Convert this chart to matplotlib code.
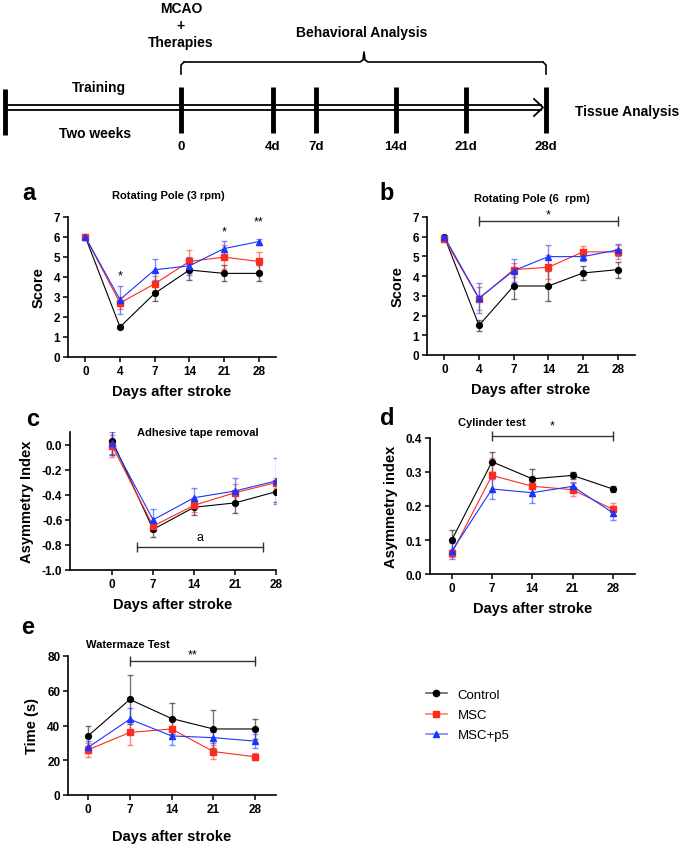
import matplotlib
matplotlib.use('Agg')
import matplotlib.pyplot as plt
from matplotlib.lines import Line2D
import numpy as np

plt.rcParams['font.family'] = ['Liberation Sans', 'DejaVu Sans']

# x categories
days_ab = ['0', '4', '7', '14', '21', '28']
days_cde = ['0', '7', '14', '21', '28']

# a: Rotating Pole (3 rpm)
a_control = [6.0, 1.5, 3.18, 4.35, 4.18, 4.18]
a_control_err = [0.05, 0.05, 0.38, 0.5, 0.4, 0.4]
a_msc = [6.0, 2.7, 3.66, 4.78, 4.99, 4.78]
a_msc_err = [0.05, 0.3, 0.37, 0.59, 0.6, 0.48]
a_p5 = [6.0, 2.87, 4.36, 4.56, 5.42, 5.77]
a_p5_err = [0.05, 0.7, 0.52, 0.46, 0.37, 0.15]

# b: Rotating Pole (6 rpm)
b_control = [6.0, 1.5, 3.5, 3.5, 4.16, 4.33]
b_control_err = [0.05, 0.3, 0.67, 0.78, 0.37, 0.41]
b_msc = [5.89, 2.86, 4.33, 4.45, 5.23, 5.23]
b_msc_err = [0.05, 0.6, 0.35, 0.6, 0.3, 0.35]
b_p5 = [6.0, 2.88, 4.28, 4.99, 4.99, 5.33]
b_p5_err = [0.05, 0.77, 0.57, 0.6, 0.2, 0.32]

# c: Adhesive tape removal
c_control = [0.03, -0.676, -0.5, -0.465, -0.376]
c_control_err = [0.11, 0.06, 0.06, 0.08, 0.085]
c_msc = [-0.01, -0.65, -0.484, -0.384, -0.303]
c_msc_err = [0.09, 0.04, 0.05, 0.07, 0.04]
c_p5 = [0.01, -0.6, -0.424, -0.37, -0.29]
c_p5_err = [0.087, 0.087, 0.074, 0.1, 0.18]

# d: Cylinder test
d_control = [0.10, 0.33, 0.28, 0.29, 0.25]
d_control_err = [0.03, 0.03, 0.03, 0.01, 0.008]
d_msc = [0.061, 0.29, 0.258, 0.248, 0.19]
d_msc_err = [0.01, 0.05, 0.03, 0.02, 0.02]
d_p5 = [0.067, 0.25, 0.239, 0.258, 0.18]
d_p5_err = [0.024, 0.03, 0.03, 0.012, 0.02]

# e: Watermaze Test
e_control = [34, 55, 44, 38, 38]
e_control_err = [6, 14, 9, 11, 6]
e_msc = [26, 36, 38, 25, 22]
e_msc_err = [4, 7, 6, 4, 2]
e_p5 = [27.4, 43.6, 34, 33, 31]
e_p5_err = [3.5, 6.4, 5, 3, 4]

groups = ['Control', 'MSC', 'MSC+p5']
colors = ['#000000', '#FF2A1A', '#1A35FF']
markers = ['o', 's', '^']

# timeline schematic
tl_labels = ['0', '4d', '7d', '14d', '21d', '28d']
tl_x = [181, 273, 316, 396, 466, 546]

W, H = 685, 845
fig = plt.figure(figsize=(W / 100, H / 100), dpi=100)


def box(x0, x1, y0, y1):
    return [x0 / W, 1 - y1 / H, (x1 - x0) / W, (y1 - y0) / H]


# ---- timeline
ax0 = fig.add_axes([0, 1 - 170 / H, 1, 170 / H])
ax0.set_xlim(0, W)
ax0.set_ylim(170, 0)
ax0.axis('off')
ax0.plot([5, 541], [106, 106], color='k', lw=1.3)
ax0.plot([5, 541], [111, 111], color='k', lw=1.3)
ax0.plot([534, 543, 534], [100, 108.5, 117], color='k', lw=1.3)
ax0.vlines(5, 90, 136, color='k', lw=3.5)
for x in tl_x:
    ax0.vlines(x, 88, 134, color='k', lw=3.5)
for x, lab in zip(tl_x, tl_labels):
    ax0.text(x, 147, lab, ha='center', va='center', fontsize=9.5, fontweight='bold')
ax0.plot([181, 181, 184], [75, 66, 63], color='k', lw=1.2)
ax0.plot([184, 360, 363, 364, 365, 368, 543], [63, 63, 61, 53, 61, 63, 63], color='k', lw=1.2)
ax0.plot([543, 546, 546], [63, 66, 75], color='k', lw=1.2)
ax0.text(181, 9, 'MCAO', ha='center', va='center', fontsize=10, fontweight='bold')
ax0.text(181, 26, '+', ha='center', va='center', fontsize=10, fontweight='bold')
ax0.text(181, 43, 'Therapies', ha='center', va='center', fontsize=10, fontweight='bold')
ax0.text(362, 33, 'Behavioral Analysis', ha='center', va='center', fontsize=10, fontweight='bold')
ax0.text(99, 88, 'Training', ha='center', va='center', fontsize=10, fontweight='bold')
ax0.text(95, 134, 'Two weeks', ha='center', va='center', fontsize=10, fontweight='bold')
ax0.text(627, 112, 'Tissue Analysis', ha='center', va='center', fontsize=10, fontweight='bold')


def draw(ax, labels, series, errs, ylim, yticks, ylabel, xlim):
    x = np.arange(len(labels))
    for vals, err, c, m, g in zip(series, errs, colors, markers, groups):
        ax.errorbar(x, vals, yerr=err, color=c, marker=m, ms=4.2, lw=0.8,
                    ecolor=matplotlib.colors.to_rgba(c, 0.55), elinewidth=1.0,
                    capsize=2.5, capthick=1.0, label=g)
    ax.set_xticks(x)
    ax.set_xticklabels(labels)
    ax.set_xlim(*xlim)
    ax.set_ylim(*ylim)
    ax.set_yticks(yticks)
    ax.set_ylabel(ylabel, fontsize=10.5, fontweight='bold', labelpad=6)
    ax.set_xlabel('Days after stroke', fontsize=10.5, fontweight='bold', labelpad=5)
    for s in ['top', 'right']:
        ax.spines[s].set_visible(False)
    for s in ['left', 'bottom']:
        ax.spines[s].set_linewidth(1.2)
    ax.tick_params(direction='out', length=3.5, width=1.1, labelsize=8.5, pad=2)
    for t in ax.get_xticklabels() + ax.get_yticklabels():
        t.set_fontweight('bold')


def bracket(ax, x0, x1, y, txt, ty):
    ax.plot([x0, x1], [y, y], color='#333333', lw=1.0, clip_on=False)
    ax.plot([x0, x1], [y, y], ls='none', marker='|', ms=7, mew=1.0, color='#333333', clip_on=False)
    ax.text((x0 + x1) / 2, ty, txt, ha='center', va='center', fontsize=9, clip_on=False)


# ---- a
axa = fig.add_axes(box(68, 276, 218, 358))
draw(axa, days_ab, [a_control, a_msc, a_p5], [a_control_err, a_msc_err, a_p5_err],
     (0, 7), range(0, 8), 'Score', (-0.5, 5.5))
axa.text(1, 4.1, '*', ha='center', va='center', fontsize=9)
axa.text(4, 6.3, '*', ha='center', va='center', fontsize=9)
axa.text(5, 6.8, '**', ha='center', va='center', fontsize=9)
axa.text(0.48, 1.16, 'Rotating Pole (3 rpm)', transform=axa.transAxes, ha='center', va='center',
         fontsize=8, fontweight='bold')

# ---- b
axb = fig.add_axes(box(427, 635, 218, 356))
draw(axb, days_ab, [b_control, b_msc, b_p5], [b_control_err, b_msc_err, b_p5_err],
     (0, 7), range(0, 8), 'Score', (-0.5, 5.5))
bracket(axb, 1, 5, 6.8, '*', 7.15)
axb.text(0.505, 1.14, 'Rotating Pole (6  rpm)', transform=axb.transAxes, ha='center', va='center',
         fontsize=8, fontweight='bold')

# ---- c
axc = fig.add_axes(box(70, 276, 433, 571))
draw(axc, days_cde, [c_control, c_msc, c_p5], [c_control_err, c_msc_err, c_p5_err],
     (-1.0, 0.1), [-1.0, -0.8, -0.6, -0.4, -0.2, 0.0], 'Asymmetry Index', (-1.03, 4.0))
axc.set_yticklabels(['-1.0', '-0.8', '-0.6', '-0.4', '-0.2', '0.0'], fontweight='bold')
bracket(axc, 0.61, 3.68, -0.82, 'a', -0.74)
axc.text(0.62, 1.0, 'Adhesive tape removal', transform=axc.transAxes, ha='center', va='center',
         fontsize=8, fontweight='bold')

# ---- d
axd = fig.add_axes(box(430, 635, 439, 575))
draw(axd, days_cde, [d_control, d_msc, d_p5], [d_control_err, d_msc_err, d_p5_err],
     (0, 0.4), [0.0, 0.1, 0.2, 0.3, 0.4], 'Asymmetry index', (-0.54, 4.55))
axd.set_yticklabels(['0.0', '0.1', '0.2', '0.3', '0.4'], fontweight='bold')
bracket(axd, 1, 4, 0.405, '*', 0.437)
axd.text(0.30, 1.118, 'Cylinder test', transform=axd.transAxes, ha='center', va='center',
         fontsize=8, fontweight='bold')

# ---- e
axe = fig.add_axes(box(68, 276, 657, 796))
draw(axe, days_cde, [e_control, e_msc, e_p5], [e_control_err, e_msc_err, e_p5_err],
     (0, 80), [0, 20, 40, 60, 80], 'Time (s)', (-0.48, 4.5))
axe.xaxis.labelpad = 10
bracket(axe, 1, 4, 77, '**', 81)
axe.text(0.29, 1.086, 'Watermaze Test', transform=axe.transAxes, ha='center', va='center',
         fontsize=8, fontweight='bold')

# panel letters
for lab, (px, py) in zip('abcde', [(29, 193), (387, 193), (33, 420), (387, 419), (28, 628)]):
    fig.text(px / W, 1 - py / H, lab, fontsize=17, fontweight='bold', ha='center', va='center')

legend_handles = [Line2D([], [], color=matplotlib.colors.to_rgba(c, 0.6), marker=m, ms=4.5,
                         markerfacecolor=c, markeredgecolor=c, lw=1.2)
                  for c, m in zip(colors, markers)]
fig.legend(legend_handles, groups, loc='upper left', bbox_to_anchor=(414 / W, 1 - 678 / H),
           frameon=False, fontsize=9.5, handlelength=1.6, labelspacing=0.6)

fig.savefig('out.png', dpi=100)
